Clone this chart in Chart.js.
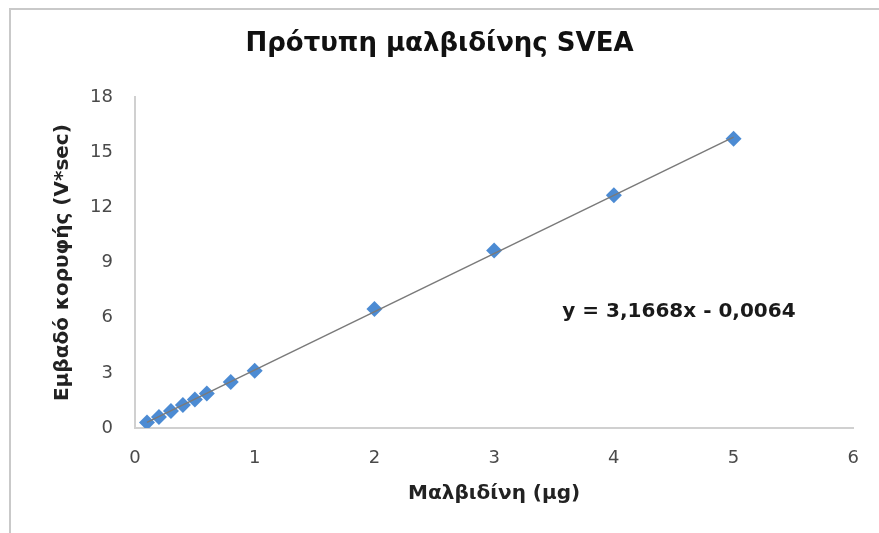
<!DOCTYPE html>
<html lang="el">
<head>
    <meta charset="UTF-8">
    <title>Πρότυπη μαλβιδίνης SVEA</title>
    <script src="https://cdn.jsdelivr.net/npm/chart.js"></script>
    <style>
        html, body { margin: 0; padding: 0; background: #fff; overflow: hidden; }
        #wrap { position: relative; width: 879px; height: 533px; overflow: hidden; }
        #frame {
            position: absolute; left: 9px; top: 8px; width: 1000px; height: 700px;
            border-left: 2px solid #c9c9c9; border-top: 2px solid #c9c9c9;
            pointer-events: none;
        }
    </style>
</head>
<body>
    <div id="wrap">
        <canvas id="chart" width="879" height="533"></canvas>
        <div id="frame"></div>
    </div>
    <script>
        // standard amounts (μg) and peak areas (V*sec)
        const amounts = [0.1, 0.2, 0.3, 0.4, 0.5, 0.6, 0.8, 1, 2, 3, 4, 5];
        const areas = [0.3, 0.6, 0.93, 1.25, 1.55, 1.88, 2.5, 3.12, 6.48, 9.66, 12.66, 15.74];

        // fitted trendline ends
        const trendX = [0.1, 5];
        const trendY = [0.31, 15.83];
        const equation = 'y = 3,1668x - 0,0064';

        const fontFamily = '"DejaVu Sans", "Open Sans", sans-serif';

        const equationLabel = {
            id: 'equationLabel',
            afterDatasetsDraw(chart) {
                const { ctx, scales } = chart;
                ctx.save();
                ctx.font = 'bold 20px ' + fontFamily;
                ctx.fillStyle = '#1a1a1a';
                ctx.textBaseline = 'middle';
                ctx.fillText(equation, scales.x.getPixelForValue(3.57), scales.y.getPixelForValue(6.3));
                ctx.restore();
            }
        };

        new Chart(document.getElementById('chart'), {
            type: 'scatter',
            data: {
                datasets: [
                    {
                        type: 'line',
                        label: 'Trend',
                        data: trendX.map((x, i) => ({ x: x, y: trendY[i] })),
                        borderColor: '#7a7a7a',
                        borderWidth: 1.5,
                        pointRadius: 0,
                        fill: false
                    },
                    {
                        label: 'SVEA',
                        data: amounts.map((x, i) => ({ x: x, y: areas[i] })),
                        pointStyle: 'rectRot',
                        pointRadius: 8,
                        backgroundColor: '#4c8bd3',
                        borderColor: '#4c8bd3',
                        borderWidth: 0
                    }
                ]
            },
            options: {
                responsive: false,
                animation: false,
                layout: { padding: 0 },
                plugins: {
                    legend: { display: false },
                    tooltip: { enabled: false },
                    title: {
                        display: true,
                        text: 'Πρότυπη μαλβιδίνης SVEA',
                        color: '#111',
                        font: { family: fontFamily, size: 26, weight: 'bold' },
                        padding: { top: 29, bottom: 37 }
                    }
                },
                scales: {
                    x: {
                        type: 'linear',
                        min: 0,
                        max: 6,
                        grid: { display: false, drawTicks: false },
                        border: { display: true, color: '#d0d0d0', width: 2 },
                        ticks: {
                            stepSize: 1,
                            padding: 20,
                            color: '#4a4a4a',
                            font: { family: fontFamily, size: 18 }
                        },
                        title: {
                            display: true,
                            text: 'Μαλβιδίνη (μg)',
                            color: '#222',
                            font: { family: fontFamily, size: 20, weight: 'bold' },
                            padding: { top: 0, bottom: 27 }
                        },
                        afterFit(scale) { scale.height = 105; }
                    },
                    y: {
                        min: 0,
                        max: 18,
                        grid: { display: false, drawTicks: false },
                        border: { display: true, color: '#d0d0d0', width: 2 },
                        ticks: {
                            stepSize: 3,
                            padding: 22,
                            color: '#4a4a4a',
                            font: { family: fontFamily, size: 18 }
                        },
                        title: {
                            display: true,
                            text: 'Εμβαδό κορυφής (V*sec)',
                            color: '#222',
                            font: { family: fontFamily, size: 20, weight: 'bold' },
                            padding: { top: 51, bottom: 0 }
                        },
                        afterFit(scale) { scale.width = 135; }
                    },
                    // empty spacer on the right so the plot ends where the original does
                    spacer: {
                        type: 'linear',
                        position: 'right',
                        display: true,
                        grid: { display: false, drawTicks: false },
                        border: { display: false },
                        ticks: { display: false },
                        afterFit(scale) { scale.width = 24; }
                    }
                }
            },
            plugins: [equationLabel]
        });
    </script>
</body>
</html>
